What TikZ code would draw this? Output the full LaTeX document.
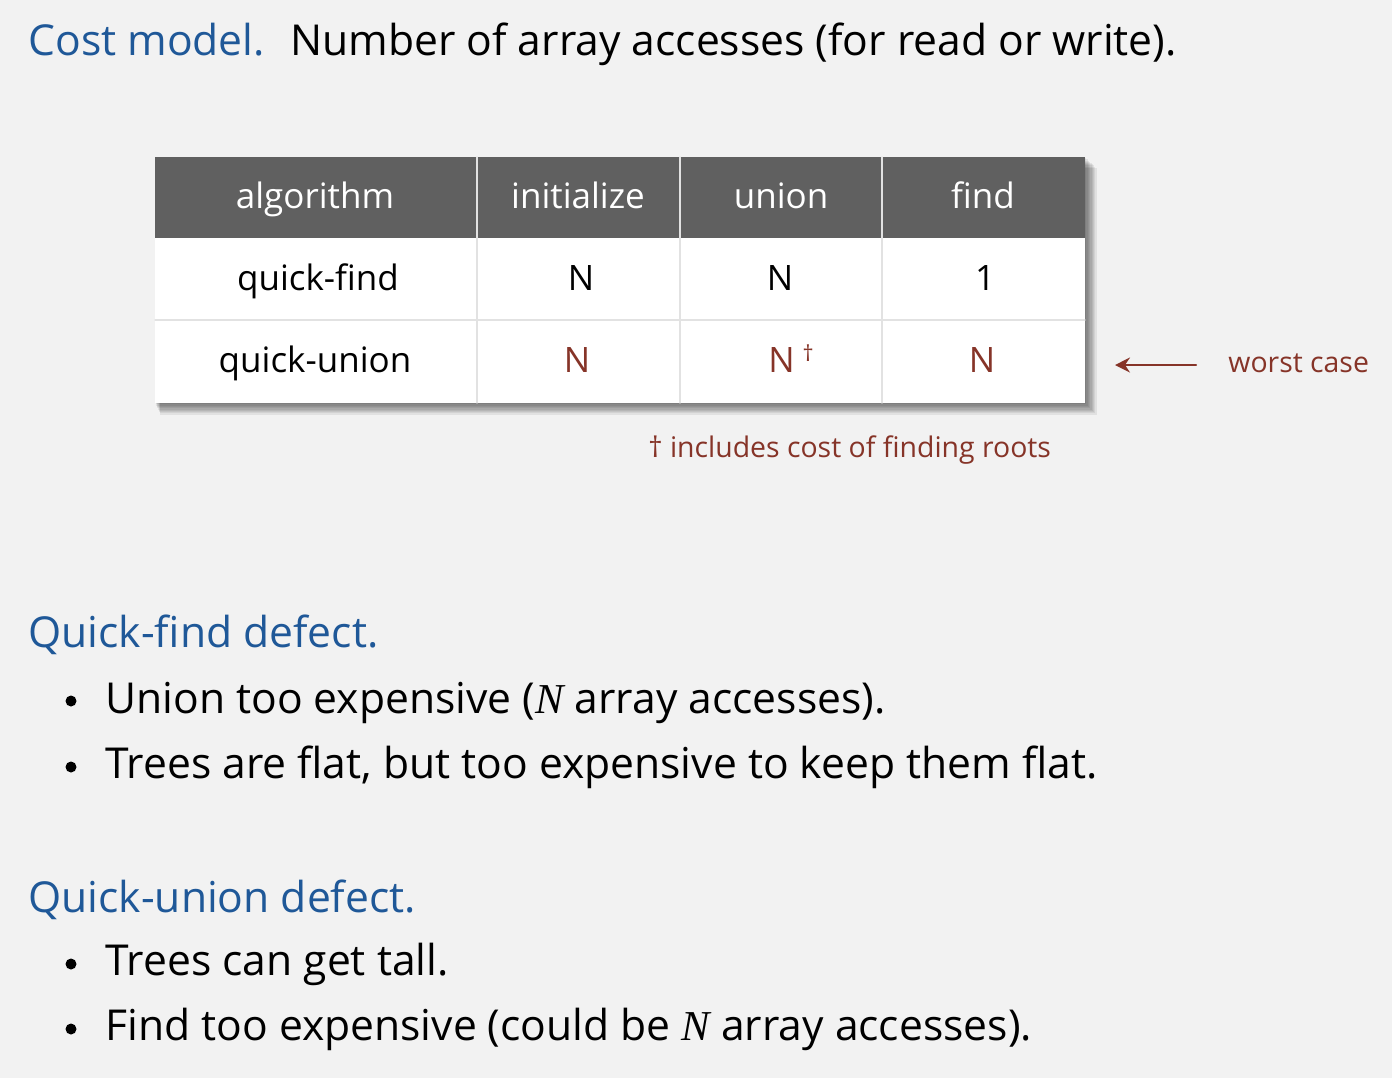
\documentclass[tikz,border=0pt]{standalone}
\usepackage{fontspec}
\setmainfont{Open Sans}
\newfontfamily\serifn{Liberation Serif}
\usepackage{tikz}
\usetikzlibrary{arrows.meta}
\definecolor{bgcol}{RGB}{242,242,242}
\definecolor{headcol}{RGB}{96,96,96}
\definecolor{gridcol}{RGB}{226,226,226}
\definecolor{bluecol}{RGB}{31,88,152}
\definecolor{redcol}{RGB}{134,52,40}
\tikzset{
  cell/.style={anchor=base,font=\fontsize{17.5}{20}\selectfont},
  headcell/.style={cell,text=white},
  heading/.style={anchor=base west,inner sep=0pt,text=bluecol,font=\fontsize{21.3}{25}\selectfont},
  body/.style={anchor=base west,inner sep=0pt,font=\fontsize{21.3}{25}\selectfont},
  note/.style={anchor=base west,inner sep=0pt,text=redcol,font=\fontsize{14.2}{17}\selectfont},
  dot/.style={circle,fill=black,inner sep=0pt,minimum size=5.5pt}
}
\newcommand{\varN}{{\serifn\itshape N}}
\begin{document}
\begin{tikzpicture}[x=0.5pt,y=-0.5pt,line cap=round,line join=round]
\fill[bgcol] (0,0) rectangle (1392,1078);
\useasboundingbox (0,0) rectangle (1392,1078);

% title line
\node[heading] (cost) at (28,55) {Cost model.};
\node[body] (model) at (290,55) {Number of array accesses (for read or write).};

% table, with a soft shadow first
\foreach \i in {1,...,9} {
  \fill[black,opacity=0.065] (155+\i*0.6,157+\i*1.2) rectangle (1085+\i*1.3,403+\i*1.3);
}
\fill[white] (155,157) rectangle (1085,403);
\fill[headcol] (155,157) rectangle (1085,238);
\draw[gridcol,line width=0.6pt] (155,320) -- (1085,320);
\foreach \xx in {477,680,882} {
  \draw[gridcol,line width=0.6pt] (\xx,157) -- (\xx,403);
}
\node[headcell] (halg) at (315,208) {algorithm};
\node[headcell] (hini) at (578,208) {initialize};
\node[headcell] (huni) at (781,208) {union};
\node[headcell] (hfin) at (983,208) {find};
\node[cell] (qf) at (318,290) {quick-find};
\node[cell] (qfini) at (581,290) {N};
\node[cell] (qfuni) at (780,290) {N};
\node[cell] (qffin) at (985,290) {1};
\node[cell] (qu) at (315,372) {quick-union};
\node[cell,text=redcol] (quini) at (577,372) {N};
\node[cell,text=redcol] (quuni) at (791,372) {N\hspace{4pt}\raisebox{0.3em}{\fontsize{11}{12}\selectfont †}};
\node[cell,text=redcol] (qufin) at (982,372) {N};

% worst case marker
\node[note] (worst) at (1228,372) {worst case};
\coordinate (wtip) at (1115,365);
\draw[redcol,line width=1.1pt,-{Stealth[length=7.5pt,width=7.5pt,inset=2.5pt]}] ([xshift=-16pt,yshift=3.5pt]worst.base west) -- (wtip);
\node[note] (dagger) at (648,457) {† includes cost of finding roots};

% quick-find
\node[heading] (qfd) at (28,647) {Quick-find defect.};
\node[dot] (b1) at (71,701) {};
\node[body] (t1) at (105,713) {Union too expensive (\varN\ array accesses).};
\node[dot] (b2) at (71,767) {};
\node[body] (t2) at (105,778) {Trees are flat, but too expensive to keep them flat.};

% quick-union
\node[heading] (qud) at (28,912) {Quick-union defect.};
\node[dot] (b3) at (71,964) {};
\node[body] (t3) at (105,975) {Trees can get tall.};
\node[dot] (b4) at (71,1029) {};
\node[body] (t4) at (105,1040) {Find too expensive (could be \varN\ array accesses).};
\end{tikzpicture}
\end{document}
